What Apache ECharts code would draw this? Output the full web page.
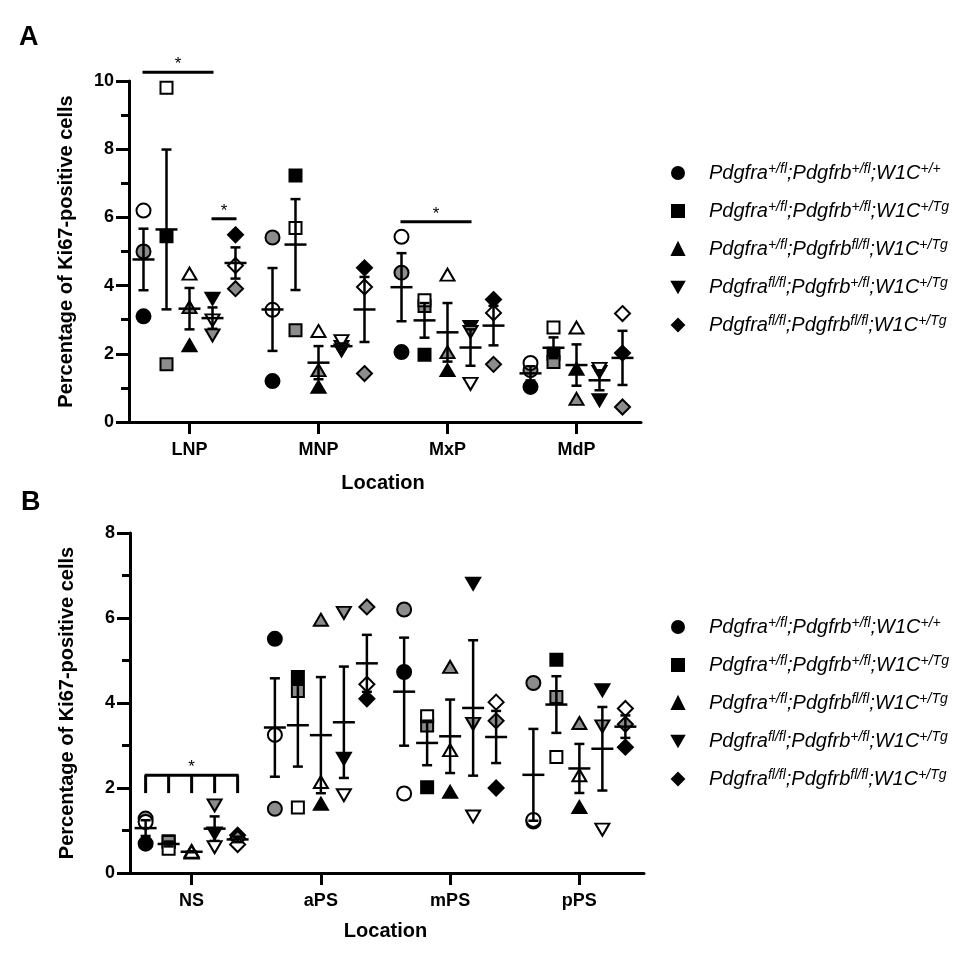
<!DOCTYPE html>
<html lang="en">
<head>
<meta charset="UTF-8">
<script src="https://cdn.jsdelivr.net/npm/echarts@6/dist/echarts.min.js"></script>
<style>
  html, body { margin: 0; padding: 0; background: #fff; }
  #main { width: 975px; height: 958px; }
</style>
</head>
<body>
<div id="main"></div>
<script>
// locations on each x axis
const locationsA = ['LNP', 'MNP', 'MxP', 'MdP'];
const locationsB = ['NS', 'aPS', 'mPS', 'pPS'];

// genotype names (series) and their legend labels with superscripts
const genotypes = [
  'Pdgfra+/fl;Pdgfrb+/fl;W1C+/+',
  'Pdgfra+/fl;Pdgfrb+/fl;W1C+/Tg',
  'Pdgfra+/fl;Pdgfrbfl/fl;W1C+/Tg',
  'Pdgfrafl/fl;Pdgfrb+/fl;W1C+/Tg',
  'Pdgfrafl/fl;Pdgfrbfl/fl;W1C+/Tg'
];
const supA = ['+/fl', '+/fl', '+/fl', 'fl/fl', 'fl/fl'];
const supB = ['+/fl', '+/fl', 'fl/fl', '+/fl', 'fl/fl'];
const supC = ['+/+', '+/Tg', '+/Tg', '+/Tg', '+/Tg'];

// Panel A: per location, the three animals [black, grey, white]
const A_g1 = [[3.10, 5.00, 6.20], [1.20, 5.41, 3.29], [2.05, 4.38, 5.43], [1.03, 1.52, 1.73]];
const A_g2 = [[5.45, 1.69, 9.80], [7.23, 2.69, 5.69], [1.97, 3.40, 3.57], [2.00, 1.76, 2.77]];
const A_g3 = [[2.25, 3.37, 4.35], [1.03, 1.52, 2.67], [1.52, 2.05, 4.32], [1.56, 0.68, 2.77]];
const A_g4 = [[3.62, 2.54, 2.98], [2.10, 2.20, 2.37], [2.79, 2.64, 1.12], [0.64, 1.47, 1.56]];
const A_g5 = [[5.49, 3.91, 4.59], [4.52, 1.42, 3.96], [3.59, 1.69, 3.20], [2.02, 0.44, 3.18]];

// Panel B
const B_g1 = [[0.69, 1.28, 1.20], [5.51, 1.51, 3.25], [4.73, 6.20, 1.87], [1.21, 4.47, 1.25]];
const B_g2 = [[0.75, 0.73, 0.57], [4.61, 4.28, 1.54], [2.02, 3.47, 3.69], [5.02, 4.14, 2.73]];
const B_g3 = [[0.48, 0.52, 0.50], [1.63, 5.96, 2.14], [1.91, 4.85, 2.89], [1.55, 3.53, 2.30]];
const B_g4 = [[0.93, 1.59, 0.61], [2.69, 6.12, 1.83], [6.81, 3.51, 1.33], [4.30, 3.45, 1.02]];
const B_g5 = [[0.89, 0.81, 0.67], [4.10, 6.26, 4.44], [2.00, 3.58, 4.02], [2.96, 3.50, 3.87]];

// significance marks: [location, fromGroup, toGroup, barY, legY (or -1)]
const sigA = [[0, 0, 3, 10.26, -1], [0, 3, 4, 5.96, -1], [2, 0, 3, 5.87, -1]];
const sigB = [[0, 0, 4, 2.30, 1.88]];

const panelA = [A_g1, A_g2, A_g3, A_g4, A_g5];
const panelB = [B_g1, B_g2, B_g3, B_g4, B_g5];

const fills = ['#000000', '#8c8c8c', '#ffffff'];
const symbols = ['circle', 'rect', 'triangle', 'path://M0,0L14,0L7,12Z', 'diamond'];
const symbolSizes = [14, 12, [14, 12], [14, 12], 15];
const GROUP_STEP = 23;   // px between genotype columns
const FONT = '"Liberation Sans", Arial, Helvetica, sans-serif';

function mean(a) { return a.reduce((s, v) => s + v, 0) / a.length; }
function sem(a) {
  const m = mean(a);
  const v = a.reduce((s, x) => s + (x - m) * (x - m), 0) / (a.length - 1);
  return Math.sqrt(v / a.length);
}

function legendLabel(i) {
  return '{n|Pdgfra}{s|' + supA[i] + '}{n|;Pdgfrb}{s|' + supB[i] + '}{n|;W1C}{s|' + supC[i] + '}';
}

function errRender(params, api) {
  const loc = api.value(0), m = api.value(1), s = api.value(2), g = api.value(3);
  const dx = (g - 2) * GROUP_STEP;
  const pM = api.coord([loc, m]);
  const x = pM[0] + dx;
  const yT = api.coord([loc, m + s])[1];
  const yB = api.coord([loc, m - s])[1];
  const st = { stroke: '#000', lineWidth: 2.5 };
  return {
    type: 'group',
    children: [
      { type: 'line', shape: { x1: x, y1: yT, x2: x, y2: yB }, style: st },
      { type: 'line', shape: { x1: x - 5, y1: yT, x2: x + 5, y2: yT }, style: st },
      { type: 'line', shape: { x1: x - 5, y1: yB, x2: x + 5, y2: yB }, style: st },
      { type: 'line', shape: { x1: x - 11, y1: pM[1], x2: x + 11, y2: pM[1] }, style: st }
    ]
  };
}

function sigRender(params, api) {
  const loc = api.value(0), g1 = api.value(1), g2 = api.value(2), y = api.value(3), leg = api.value(4);
  const p = api.coord([loc, y]);
  const x1 = p[0] + (g1 - 2) * GROUP_STEP, x2 = p[0] + (g2 - 2) * GROUP_STEP;
  const st = { stroke: '#000', lineWidth: 3 };
  const children = [
    { type: 'line', shape: { x1: x1 - 1, y1: p[1], x2: x2 + 1, y2: p[1] }, style: st },
    { type: 'text', style: { text: '*', x: (x1 + x2) / 2, y: p[1] + 1, align: 'center', verticalAlign: 'bottom',
      font: '17px ' + FONT, fill: '#000' } }
  ];
  if (leg >= 0) {
    const yl = api.coord([loc, leg])[1];
    for (let g = g1; g <= g2; g++) {
      const x = p[0] + (g - 2) * GROUP_STEP;
      children.push({ type: 'line', shape: { x1: x, y1: p[1], x2: x, y2: yl }, style: st });
    }
  }
  return { type: 'group', children: children };
}

function buildSeries(panel, axisIdx, sig) {
  const out = [];
  panel.forEach((grp, g) => {
    const pts = [];
    grp.forEach((vals, loc) => {
      vals.forEach((v, k) => {
        pts.push({ value: [loc, v], itemStyle: { color: fills[k] } });
      });
    });
    out.push({
      name: genotypes[g],
      type: 'scatter',
      xAxisIndex: axisIdx, yAxisIndex: axisIdx,
      symbol: symbols[g],
      symbolSize: symbolSizes[g],
      symbolOffset: [(g - 2) * GROUP_STEP, 0],
      itemStyle: { color: '#000', borderColor: '#000', borderWidth: 2, opacity: 1 },
      data: pts,
      z: 2
    });
  });
  const err = [];
  panel.forEach((grp, g) => {
    grp.forEach((vals, loc) => err.push([loc, mean(vals), sem(vals), g]));
  });
  out.push({
    type: 'custom', xAxisIndex: axisIdx, yAxisIndex: axisIdx,
    renderItem: errRender, encode: { x: 0, y: 1 }, data: err, z: 3, silent: true
  });
  out.push({
    type: 'custom', xAxisIndex: axisIdx, yAxisIndex: axisIdx, clip: false,
    renderItem: sigRender, encode: { x: 0, y: 3 }, data: sig, z: 3, silent: true
  });
  return out;
}

function xAxisOf(grid, cats, nameGap) {
  return {
    type: 'category', gridIndex: grid, data: cats, boundaryGap: true,
    name: 'Location', nameLocation: 'middle', nameGap: nameGap,
    nameTextStyle: { color: '#000', fontWeight: 'bold', fontSize: 20, fontFamily: FONT },
    axisLine: { show: true, lineStyle: { color: '#000', width: 3 } },
    axisTick: { show: true, alignWithLabel: true, length: 12, lineStyle: { color: '#000', width: 3 } },
    axisLabel: { color: '#000', fontWeight: 'bold', fontSize: 18, fontFamily: FONT, margin: 19 },
    splitLine: { show: false }
  };
}

function yAxisOf(grid, max, offset) {
  return {
    type: 'value', gridIndex: grid, min: 0, max: max, interval: 2, offset: offset,
    name: 'Percentage of Ki67-positive cells', nameLocation: 'middle', nameGap: 53,
    nameTextStyle: { color: '#000', fontWeight: 'bold', fontSize: 20, fontFamily: FONT },
    axisLine: { show: true, lineStyle: { color: '#000', width: 3 } },
    axisTick: { show: true, length: 13, lineStyle: { color: '#000', width: 3 } },
    minorTick: { show: true, splitNumber: 2, length: 8, lineStyle: { color: '#000', width: 3 } },
    axisLabel: { color: '#000', fontWeight: 'bold', fontSize: 18, fontFamily: FONT, margin: 15 },
    splitLine: { show: false }, minorSplitLine: { show: false }
  };
}

function legendOf(top) {
  return {
    orient: 'vertical', left: 671, top: top, padding: 0,
    itemWidth: 12, itemHeight: 12, itemGap: 17,
    selectedMode: false,
    data: genotypes,
    formatter: name => legendLabel(genotypes.indexOf(name)),
    textStyle: {
      color: '#000', padding: [0, 0, 0, 20],
      rich: {
        n: { fontSize: 20, fontStyle: 'italic', fontFamily: FONT, color: '#000', lineHeight: 22 },
        s: { fontSize: 14, fontStyle: 'italic', fontFamily: FONT, color: '#000', lineHeight: 14, verticalAlign: 'top' }
      }
    }
  };
}

const chart = echarts.init(document.getElementById('main'), null, { renderer: 'canvas' });
chart.setOption({
  animation: false,
  backgroundColor: '#fff',
  grid: [
    { left: 125, top: 81, width: 516, height: 341 },
    { left: 127, top: 533, width: 517, height: 340 }
  ],
  xAxis: [xAxisOf(0, locationsA, 51), xAxisOf(1, locationsB, 48)],
  yAxis: [yAxisOf(0, 10, -4), yAxisOf(1, 8, -3)],
  legend: [legendOf(162), legendOf(616)],
  graphic: [
    { type: 'text', left: 19, top: 24, style: { text: 'A', font: 'bold 27px ' + FONT, fill: '#000' } },
    { type: 'text', left: 21, top: 489, style: { text: 'B', font: 'bold 27px ' + FONT, fill: '#000' } }
  ],
  series: buildSeries(panelA, 0, sigA).concat(buildSeries(panelB, 1, sigB))
});
</script>
</body>
</html>
